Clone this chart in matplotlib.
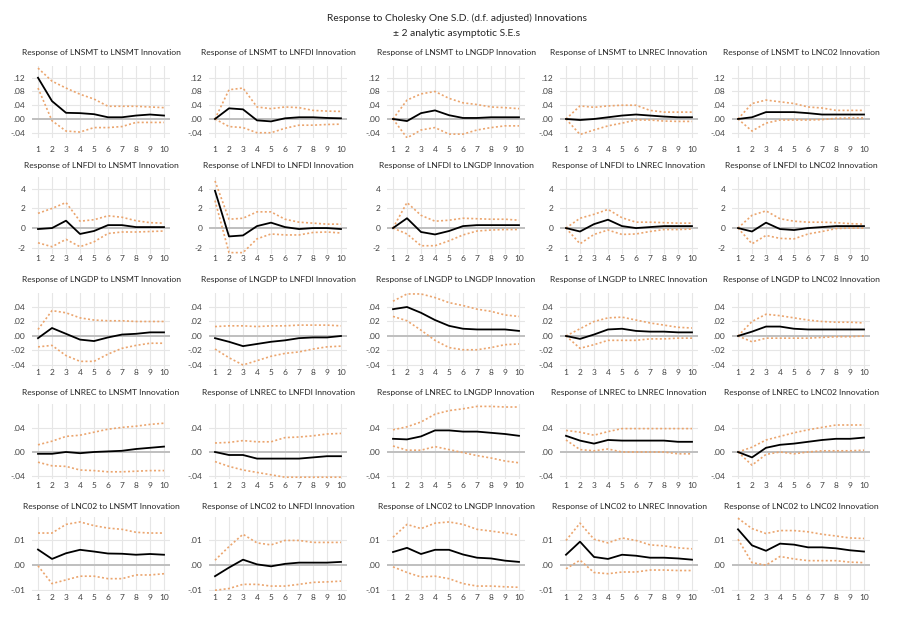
import matplotlib
matplotlib.use("Agg")
import matplotlib.pyplot as plt

variables = ["LNSMT", "LNFDI", "LNGDP", "LNREC", "LNC02"]
periods = [1, 2, 3, 4, 5, 6, 7, 8, 9, 10]

# ---- Response of LNSMT (row 1) to LNSMT, LNFDI, LNGDP, LNREC, LNC02
smt_resp = [
    [0.120, 0.052, 0.018, 0.017, 0.014, 0.005, 0.005, 0.010, 0.013, 0.010],
    [0.000, 0.031, 0.028, -0.004, -0.007, 0.002, 0.005, 0.005, 0.003, 0.002],
    [0.000, -0.006, 0.017, 0.025, 0.011, 0.003, 0.003, 0.005, 0.005, 0.005],
    [0.000, -0.003, 0.000, 0.005, 0.010, 0.013, 0.010, 0.007, 0.005, 0.005],
    [0.000, 0.005, 0.020, 0.020, 0.020, 0.017, 0.013, 0.013, 0.013, 0.013],
]
smt_lo = [
    [0.090, -0.005, -0.035, -0.038, -0.025, -0.025, -0.022, -0.010, -0.010, -0.010],
    [0.000, -0.022, -0.025, -0.040, -0.040, -0.027, -0.018, -0.018, -0.016, -0.015],
    [0.000, -0.055, -0.032, -0.025, -0.044, -0.044, -0.032, -0.025, -0.020, -0.020],
    [0.000, -0.045, -0.032, -0.020, -0.012, -0.003, -0.003, -0.006, -0.007, -0.007],
    [0.000, -0.035, -0.012, -0.003, -0.003, -0.003, -0.002, 0.002, 0.003, 0.003],
]
smt_hi = [
    [0.148, 0.110, 0.090, 0.072, 0.058, 0.037, 0.037, 0.037, 0.035, 0.033],
    [0.000, 0.085, 0.090, 0.035, 0.030, 0.035, 0.033, 0.025, 0.023, 0.022],
    [0.000, 0.055, 0.073, 0.080, 0.060, 0.047, 0.042, 0.035, 0.033, 0.030],
    [0.000, 0.038, 0.034, 0.038, 0.040, 0.040, 0.025, 0.020, 0.020, 0.020],
    [0.000, 0.045, 0.055, 0.050, 0.045, 0.035, 0.032, 0.025, 0.025, 0.025],
]

# ---- Response of LNFDI (row 2)
fdi_resp = [
    [-0.10, 0.00, 0.75, -0.60, -0.30, 0.30, 0.30, 0.10, 0.10, 0.10],
    [3.80, -0.85, -0.75, 0.20, 0.55, 0.10, -0.10, 0.00, 0.00, -0.10],
    [0.00, 1.00, -0.40, -0.65, -0.30, 0.20, 0.30, 0.30, 0.30, 0.30],
    [0.00, -0.35, 0.40, 0.85, 0.20, 0.00, 0.10, 0.20, 0.20, 0.20],
    [0.00, -0.35, 0.55, -0.10, -0.20, 0.00, 0.10, 0.20, 0.20, 0.20],
]
fdi_lo = [
    [-1.50, -1.90, -1.15, -1.90, -1.40, -0.55, -0.40, -0.40, -0.35, -0.30],
    [2.80, -2.50, -2.50, -1.10, -0.60, -0.70, -0.70, -0.45, -0.40, -0.50],
    [0.00, -0.60, -1.80, -1.80, -1.30, -0.70, -0.30, -0.20, -0.15, -0.15],
    [0.00, -1.60, -0.65, -0.20, -0.65, -0.60, -0.35, -0.15, -0.15, -0.10],
    [0.00, -1.60, -0.75, -1.05, -1.10, -0.60, -0.35, -0.05, 0.00, 0.00],
]
fdi_hi = [
    [1.50, 2.00, 2.60, 0.70, 0.85, 1.25, 1.10, 0.75, 0.55, 0.50],
    [4.80, 0.90, 1.00, 1.65, 1.65, 0.90, 0.60, 0.50, 0.40, 0.40],
    [0.00, 2.60, 1.30, 0.70, 0.80, 1.00, 0.95, 0.90, 0.90, 0.80],
    [0.00, 1.00, 1.40, 1.90, 1.05, 0.60, 0.60, 0.55, 0.50, 0.50],
    [0.00, 1.30, 1.75, 0.95, 0.70, 0.60, 0.60, 0.55, 0.45, 0.40],
]

# ---- Response of LNGDP (row 3)
gdp_resp = [
    [-0.003, 0.011, 0.003, -0.005, -0.007, -0.002, 0.002, 0.003, 0.005, 0.005],
    [-0.003, -0.008, -0.014, -0.011, -0.008, -0.006, -0.003, -0.002, -0.002, 0.000],
    [0.037, 0.040, 0.032, 0.022, 0.014, 0.010, 0.009, 0.009, 0.009, 0.007],
    [0.000, -0.004, 0.002, 0.009, 0.010, 0.007, 0.006, 0.006, 0.005, 0.005],
    [0.000, 0.006, 0.013, 0.013, 0.010, 0.009, 0.009, 0.009, 0.009, 0.009],
]
gdp_lo = [
    [-0.015, -0.013, -0.027, -0.035, -0.035, -0.025, -0.017, -0.013, -0.010, -0.010],
    [-0.018, -0.030, -0.040, -0.034, -0.028, -0.024, -0.022, -0.018, -0.015, -0.014],
    [0.027, 0.021, 0.008, -0.006, -0.016, -0.019, -0.019, -0.016, -0.012, -0.011],
    [0.000, -0.017, -0.012, -0.006, -0.006, -0.006, -0.004, -0.004, -0.003, -0.003],
    [0.000, -0.008, -0.003, -0.003, -0.003, -0.003, -0.002, -0.001, -0.001, 0.000],
]
gdp_hi = [
    [0.009, 0.035, 0.032, 0.025, 0.022, 0.021, 0.021, 0.020, 0.020, 0.020],
    [0.013, 0.014, 0.014, 0.013, 0.014, 0.014, 0.015, 0.015, 0.015, 0.014],
    [0.048, 0.058, 0.058, 0.053, 0.046, 0.042, 0.037, 0.034, 0.029, 0.027],
    [0.000, 0.010, 0.020, 0.025, 0.026, 0.022, 0.018, 0.015, 0.012, 0.011],
    [0.000, 0.020, 0.030, 0.028, 0.025, 0.022, 0.020, 0.019, 0.019, 0.018],
]

# ---- Response of LNREC (row 4)
rec_resp = [
    [-0.003, -0.003, 0.000, -0.002, 0.000, 0.001, 0.002, 0.005, 0.007, 0.009],
    [0.000, -0.005, -0.005, -0.011, -0.011, -0.011, -0.011, -0.009, -0.007, -0.007],
    [0.022, 0.021, 0.026, 0.036, 0.036, 0.034, 0.034, 0.032, 0.030, 0.027],
    [0.027, 0.019, 0.014, 0.020, 0.019, 0.019, 0.019, 0.019, 0.017, 0.017],
    [0.000, -0.009, 0.007, 0.012, 0.014, 0.017, 0.020, 0.022, 0.022, 0.024],
]
rec_lo = [
    [-0.017, -0.023, -0.024, -0.030, -0.031, -0.033, -0.033, -0.032, -0.031, -0.031],
    [-0.016, -0.024, -0.030, -0.034, -0.038, -0.042, -0.042, -0.042, -0.042, -0.042],
    [0.010, 0.003, 0.003, 0.009, 0.004, -0.001, -0.006, -0.010, -0.015, -0.018],
    [0.020, 0.004, 0.002, 0.005, 0.000, 0.000, 0.000, 0.000, -0.003, -0.003],
    [0.000, -0.022, -0.004, 0.000, -0.003, 0.000, 0.002, 0.002, 0.002, 0.003],
]
rec_hi = [
    [0.012, 0.018, 0.026, 0.028, 0.033, 0.038, 0.041, 0.043, 0.046, 0.048],
    [0.015, 0.016, 0.019, 0.017, 0.017, 0.024, 0.025, 0.027, 0.030, 0.031],
    [0.037, 0.042, 0.050, 0.063, 0.069, 0.072, 0.076, 0.076, 0.075, 0.075],
    [0.036, 0.033, 0.028, 0.034, 0.039, 0.039, 0.039, 0.039, 0.039, 0.039],
    [0.000, 0.008, 0.020, 0.026, 0.032, 0.037, 0.041, 0.045, 0.045, 0.045],
]

# ---- Response of LNC02 (row 5)
co2_resp = [
    [0.0063, 0.0025, 0.0048, 0.0062, 0.0055, 0.0047, 0.0046, 0.0042, 0.0045, 0.0042],
    [-0.0045, -0.0010, 0.0022, 0.0003, -0.0005, 0.0005, 0.0010, 0.0010, 0.0010, 0.0013],
    [0.0053, 0.0070, 0.0045, 0.0062, 0.0062, 0.0043, 0.0030, 0.0027, 0.0018, 0.0013],
    [0.0042, 0.0095, 0.0033, 0.0025, 0.0042, 0.0038, 0.0030, 0.0030, 0.0027, 0.0022],
    [0.0145, 0.0080, 0.0058, 0.0087, 0.0083, 0.0072, 0.0072, 0.0068, 0.0060, 0.0055],
]
co2_lo = [
    [-0.0003, -0.0075, -0.0060, -0.0045, -0.0045, -0.0055, -0.0055, -0.0040, -0.0040, -0.0035],
    [-0.0102, -0.0095, -0.0078, -0.0078, -0.0085, -0.0085, -0.0078, -0.0070, -0.0068, -0.0065],
    [-0.0007, -0.0030, -0.0048, -0.0045, -0.0055, -0.0075, -0.0085, -0.0085, -0.0088, -0.0090],
    [-0.0015, 0.0020, -0.0030, -0.0035, -0.0028, -0.0028, -0.0020, -0.0020, -0.0022, -0.0022],
    [0.0105, 0.0010, 0.0000, 0.0035, 0.0025, 0.0018, 0.0018, 0.0018, 0.0012, 0.0010],
]
co2_hi = [
    [0.0130, 0.0130, 0.0165, 0.0175, 0.0160, 0.0150, 0.0145, 0.0133, 0.0130, 0.0130],
    [0.0020, 0.0075, 0.0125, 0.0090, 0.0082, 0.0100, 0.0100, 0.0092, 0.0092, 0.0092],
    [0.0113, 0.0165, 0.0148, 0.0170, 0.0175, 0.0165, 0.0145, 0.0138, 0.0130, 0.0120],
    [0.0100, 0.0170, 0.0105, 0.0090, 0.0110, 0.0100, 0.0082, 0.0078, 0.0070, 0.0066],
    [0.0190, 0.0148, 0.0128, 0.0140, 0.0140, 0.0135, 0.0125, 0.0118, 0.0110, 0.0108],
]

row_ticks = [
    [-0.04, 0.00, 0.04, 0.08, 0.12],
    [-2, 0, 2, 4],
    [-0.04, -0.02, 0.00, 0.02, 0.04],
    [-0.04, 0.00, 0.04],
    [-0.01, 0.00, 0.01],
]
row_ticklabels = [
    ["-.04", ".00", ".04", ".08", ".12"],
    ["-2", "0", "2", "4"],
    ["-.04", "-.02", ".00", ".02", ".04"],
    ["-.04", ".00", ".04"],
    ["-.01", ".00", ".01"],
]

# ---- layout (pixels)
W, H = 900, 619
row_ylim = [(-0.055, 0.155), (-2.6, 5.2), (-0.045, 0.06), (-0.045, 0.08), (-0.0105, 0.0195)]
row_top_px = [65.7, 177, 292.5, 404, 517]
row_bot_px = [137.9, 253.6, 368.6, 479, 591]
row_title_px = [52, 166, 279, 392, 507]
row_xpad = [5.6, 1.2, 0.5, 2.2, 2.2]
col_x1_px = [38, 215, 393, 566, 738]
unit_px = 14.0

resp_rows = [smt_resp, fdi_resp, gdp_resp, rec_resp, co2_resp]
lo_rows = [smt_lo, fdi_lo, gdp_lo, rec_lo, co2_lo]
hi_rows = [smt_hi, fdi_hi, gdp_hi, rec_hi, co2_hi]

FONT = ["Lato", "DejaVu Sans"]
plt.rcParams["font.family"] = FONT

fig = plt.figure(figsize=(W / 100, H / 100), dpi=100)
fig.text(457 / W, 1 - 18 / H, "Response to Cholesky One S.D. (d.f. adjusted) Innovations",
         ha="center", va="center", fontsize=7.4, color="#262626")
fig.text(457 / W, 1 - 33 / H, "\u00b1 2 analytic asymptotic S.E.s",
         ha="center", va="center", fontsize=7.4, color="#262626")

band_color = "#EBA56E"
for r in range(5):
    for c in range(5):
        left = (col_x1_px[c] - 0.4 * unit_px) / W
        width = 9.8 * unit_px / W
        bottom = 1 - row_bot_px[r] / H
        height = (row_bot_px[r] - row_top_px[r]) / H
        ax = fig.add_axes([left, bottom, width, height])
        ax.set_xlim(0.6, 10.4)
        ax.set_ylim(*row_ylim[r])
        for s in ax.spines.values():
            s.set_visible(False)
        ax.set_xticks(periods)
        ax.set_xticklabels([str(p) for p in periods])
        ax.set_yticks(row_ticks[r])
        ax.set_yticklabels(row_ticklabels[r])
        ax.tick_params(axis="both", length=0, labelsize=6, colors="#404040")
        ax.tick_params(axis="x", pad=row_xpad[r])
        ax.tick_params(axis="y", pad=5)
        for p in periods:
            ax.axvline(p, color="#E6E6E6", lw=0.8, zorder=0)
        for t in row_ticks[r]:
            if t == 0:
                ax.axhline(0, color="#BFBFBF", lw=1.4, zorder=1)
            else:
                ax.axhline(t, color="#E6E6E6", lw=0.8, zorder=0)
        ax.plot(periods, hi_rows[r][c], color=band_color, lw=1.2,
                linestyle=(0, (1.2, 1.4)), zorder=2)
        ax.plot(periods, lo_rows[r][c], color=band_color, lw=1.2,
                linestyle=(0, (1.2, 1.4)), zorder=2)
        ax.plot(periods, resp_rows[r][c], color="black", lw=1.3, zorder=3)
        fig.text((col_x1_px[c] + 4.5 * unit_px) / W, 1 - row_title_px[r] / H,
                 "Response of %s to %s Innovation" % (variables[r], variables[c]),
                 ha="center", va="center", fontsize=6.1, color="#262626")

fig.savefig("out.png", dpi=100)
